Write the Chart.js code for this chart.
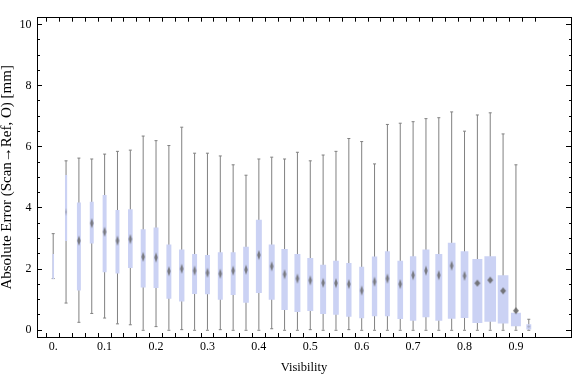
<!DOCTYPE html>
<html>
<head>
<meta charset="utf-8">
<script src="https://cdn.jsdelivr.net/npm/chart.js@4.4.1/dist/chart.umd.min.js"></script>
<style>
  html, body { margin: 0; padding: 0; background: #fff; }
  #wrap { width: 576px; height: 377px; position: relative; }
</style>
</head>
<body>
<div id="wrap"><canvas id="c"></canvas></div>
<script>
// Box-whisker chart of absolute error vs visibility (one box every 0.025)

const visibility = [0, 0.025, 0.05, 0.075, 0.1, 0.125, 0.15, 0.175, 0.2, 0.225,
                    0.25, 0.275, 0.3, 0.325, 0.35, 0.375, 0.4, 0.425, 0.45, 0.475,
                    0.5, 0.525, 0.55, 0.575, 0.6, 0.625, 0.65, 0.675, 0.7, 0.725,
                    0.75, 0.775, 0.8, 0.825, 0.85, 0.875, 0.9, 0.925];

const whiskerLow  = [1.69, 0.89, 0.26, 0.55, 0.40, 0.21, 0.18, 0.00, 0.12, 0.00,
                     0.02, 0.00, 0.00, 0.02, 0.00, 0.00, 0.00, 0.05, 0.00, 0.00,
                     0.02, 0.00, 0.00, 0.02, 0.00, 0.00, 0.00, 0.00, 0.00, 0.00,
                     0.00, 0.00, 0.00, 0.00, 0.00, 0.00, 0.00, 0.00];
const whiskerHigh = [3.16, 5.54, 5.63, 5.60, 5.76, 5.85, 5.89, 6.35, 6.20, 6.04,
                     6.64, 5.79, 5.79, 5.70, 5.41, 5.07, 5.60, 5.66, 5.60, 5.82,
                     5.54, 5.73, 5.85, 6.27, 6.17, 5.44, 6.73, 6.77, 6.82, 6.92,
                     6.95, 7.14, 6.51, 7.04, 7.11, 6.42, 5.41, 0.36];
const boxLow      = [1.69, 2.93, 1.31, 2.85, 1.91, 1.87, 2.05, 1.41, 1.39, 1.04,
                     0.95, 1.20, 1.19, 1.01, 1.16, 0.91, 1.23, 1.01, 0.67, 0.61,
                     0.64, 0.54, 0.52, 0.45, 0.40, 0.47, 0.47, 0.38, 0.32, 0.44,
                     0.32, 0.39, 0.41, 0.25, 0.29, 0.23, 0.14, 0.04];
const boxHigh     = [2.48, 5.07, 4.17, 4.19, 4.41, 3.92, 3.95, 3.29, 3.35, 2.79,
                     2.63, 2.48, 2.45, 2.54, 2.54, 2.72, 3.60, 2.79, 2.65, 2.48,
                     2.35, 2.13, 2.26, 2.19, 2.07, 2.40, 2.57, 2.26, 2.41, 2.63,
                     2.48, 2.85, 2.57, 2.32, 2.41, 1.79, 0.56, 0.19];
const medians     = [null, 3.87, 2.93, 3.50, 3.22, 2.93, 2.98, 2.40, 2.38, 1.93,
                     2.01, 1.95, 1.88, 1.85, 1.95, 1.98, 2.46, 2.09, 1.83, 1.69,
                     1.63, 1.55, 1.54, 1.51, 1.30, 1.59, 1.69, 1.51, 1.80, 1.95,
                     1.80, 2.11, 1.78, 1.54, 1.64, 1.29, 0.64, 0.12];

const xTickLabels = ['0.', '0.1', '0.2', '0.3', '0.4', '0.5', '0.6', '0.7', '0.8', '0.9'];
const yTickValues = [0, 0.5, 1, 1.5, 2, 2.5, 3, 3.5, 4, 4.5, 5, 5.5, 6, 6.5, 7, 7.5, 8, 8.5, 9, 9.5, 10];
const yTickLabels = ['0', '2', '4', '6', '8', '10'];

// box widths in px (the chart scales them per bin)
const boxWidthPx = [1, 1.5, 3.3, 3.3, 3.3, 3.3, 4, 4.3, 4.3, 4.3,
                    4.7, 4.3, 4.3, 4.3, 4.3, 5, 5.3, 5.3, 5.7, 5.3,
                    5.3, 5.3, 5, 4.7, 4.3, 4.7, 4.3, 5, 5.7, 6.3,
                    6.3, 7, 7, 9.3, 11, 10, 9.3, 4.3];

const FONT = "'Liberation Serif', 'Times New Roman', serif";
const BOX_COLOR = '#cbd2f4';
const WHISKER_COLOR = '#808080';

function diamond(w, h, alpha) {
    const c = document.createElement('canvas');
    c.width = Math.ceil(w) + 4;
    c.height = Math.ceil(h) + 4;
    const g = c.getContext('2d');
    const cx = c.width / 2, cy = c.height / 2;
    g.filter = 'blur(0.5px)';
    g.fillStyle = 'rgba(100,100,100,' + alpha + ')';
    g.beginPath();
    g.moveTo(cx, cy - h / 2);
    g.lineTo(cx + w / 2, cy);
    g.lineTo(cx, cy + h / 2);
    g.lineTo(cx - w / 2, cy);
    g.closePath();
    g.fill();
    return c;
}

const medianMarks = boxWidthPx.map((w, i) => {
    if (i === visibility.length - 1) return diamond(3, 3, 0.35);
    if (w < 2) return diamond(2, 8, 0.35);
    if (w >= 9) return diamond(6, 7, 0.85);
    return diamond(3.5, 10, 0.8);
});

const datasets = [];

datasets.push({
    type: 'bar',
    label: 'whiskers',
    data: visibility.map((v, i) => ({ x: v, y: [whiskerLow[i], whiskerHigh[i]] })),
    backgroundColor: WHISKER_COLOR,
    barThickness: 1,
    inflateAmount: 0,
    grouped: false,
    order: 4
});

datasets.push({
    type: 'scatter',
    label: 'caps',
    data: visibility.map((v, i) => ({ x: v, y: whiskerLow[i] }))
        .concat(visibility.map((v, i) => ({ x: v, y: whiskerHigh[i] }))),
    pointStyle: 'line',
    radius: 1.5,
    borderColor: WHISKER_COLOR,
    borderWidth: 1,
    order: 3
});

visibility.forEach((v, i) => {
    datasets.push({
        type: 'bar',
        label: 'box' + i,
        data: [{ x: v, y: [boxLow[i], boxHigh[i]] }],
        backgroundColor: BOX_COLOR,
        barThickness: boxWidthPx[i],
        grouped: false,
        order: 2
    });
});

datasets.push({
    type: 'scatter',
    label: 'medians',
    data: visibility.map((v, i) => ({ x: v, y: medians[i] })),
    pointStyle: ctx => medianMarks[ctx.dataIndex],
    radius: 4,
    order: 1
});

function xAxis(position, showLabels) {
    return {
        type: 'linear',
        position: position,
        min: -0.0315,
        max: 1.0071,
        offset: false,
        afterBuildTicks: s => { s.ticks = visibility.map(v => ({ value: v })); },
        afterFit: s => { s.height = showLabels ? 40 : 0; },
        grid: { drawOnChartArea: false, drawTicks: true, tickLength: -4, tickColor: '#000', tickWidth: 1 },
        border: { display: true, color: '#000', width: 1 },
        ticks: {
            display: showLabels,
            autoSkip: false,
            maxRotation: 0,
            padding: 7,
            color: '#000',
            font: { family: FONT, size: 12 },
            callback: (val, idx) => idx % 4 === 0 ? xTickLabels[idx / 4] : ''
        },
        title: showLabels ? {
            display: true, text: 'Visibility', color: '#000',
            font: { family: FONT, size: 12.5 }, padding: { top: 0, bottom: 1.5 }
        } : { display: false }
    };
}

function yAxis(position, showLabels) {
    return {
        type: 'linear',
        position: position,
        min: -0.22,
        max: 10.22,
        afterBuildTicks: s => { s.ticks = yTickValues.map(v => ({ value: v })); },
        afterFit: s => { s.width = showLabels ? 37 : 0; },
        grid: {
            drawOnChartArea: false, drawTicks: true, tickLength: -5, tickColor: '#000', tickWidth: 1,
            tickBorderDash: ctx => {
                if (!ctx.tick || ctx.tick.value % 2 === 0) return [];
                return position === 'left' ? [0, 2, 3, 10] : [3, 10];
            }
        },
        border: { display: true, color: '#000', width: 1 },
        ticks: {
            display: showLabels,
            autoSkip: false,
            padding: 10.5,
            color: '#000',
            font: { family: FONT, size: 12 },
            callback: (val) => val % 2 === 0 ? yTickLabels[val / 2] : ''
        },
        title: showLabels ? {
            display: true, text: 'Absolute Error (Scan\u2192Ref, O) [mm]', color: '#000',
            font: { family: FONT, size: 15 }, padding: { top: -1.5, bottom: 0 }
        } : { display: false }
    };
}

new Chart(document.getElementById('c'), {
    type: 'bar',
    data: { datasets },
    options: {
        responsive: true,
        maintainAspectRatio: false,
        animation: false,
        events: [],
        layout: { padding: { top: 4, right: 1, left: 0, bottom: 0 } },
        plugins: { legend: { display: false }, tooltip: { enabled: false } },
        scales: {
            x: xAxis('bottom', true),
            x2: xAxis('top', false),
            y: yAxis('left', true),
            y2: yAxis('right', false)
        }
    }
});
</script>
</body>
</html>
